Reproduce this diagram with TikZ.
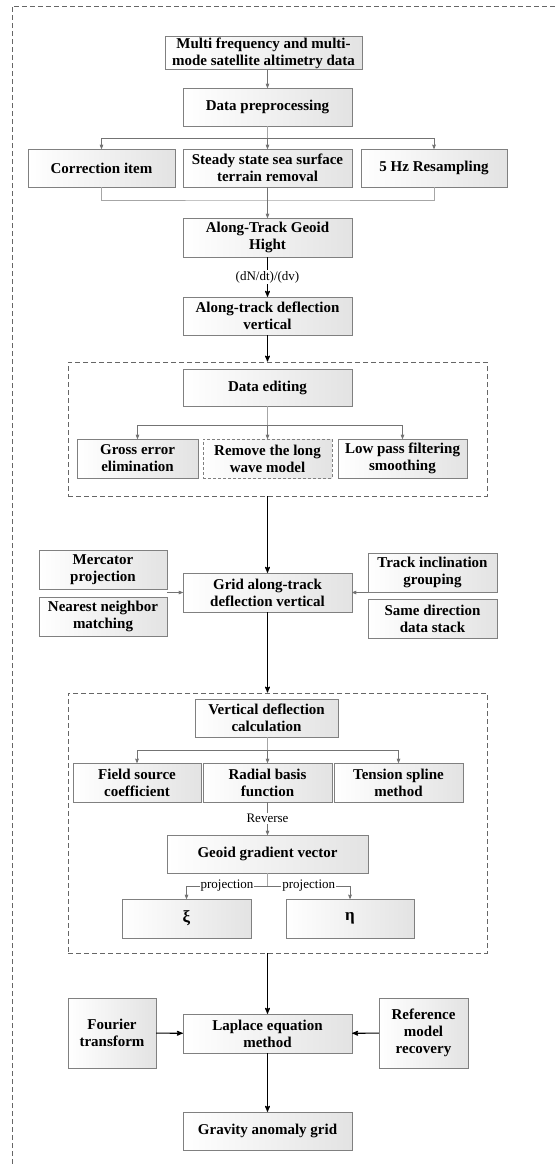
\documentclass[tikz,border=0pt]{standalone}
\usepackage{fontspec}
\setmainfont{Liberation Serif}
\usetikzlibrary{arrows}
\tikzset{
  box/.style={draw=black!50, left color=white, right color=black!11, align=center, inner sep=1pt,
    font=\fontsize{15}{17}\selectfont\bfseries},
  dbox/.style={box, dash pattern=on 3pt off 2pt},
  frame/.style={draw=black!60, dash pattern=on 5pt off 3pt, line width=0.8pt},
  garrow/.style={draw=black!55, line width=0.6pt, ->, >=stealth'},
  gline/.style={draw=black!35, line width=0.6pt},
  barrow/.style={draw=black, line width=1.1pt, ->, >=stealth'},
  lbl/.style={fill=white, inner sep=1pt, font=\fontsize{13}{15}\selectfont}
}
\begin{document}
\begin{tikzpicture}[x=1pt, y=-1pt]
\useasboundingbox (0,0) rectangle (557,1164);
\clip (0,0) rectangle (557,1164);
\fill[white] (0,0) rectangle (557,1164);
\draw[frame] (12,1180) |- (580,6);

% preprocessing
\node[box, minimum width=197, minimum height=30] (src) at (263.5,53) {Multi frequency and multi-\\mode satellite altimetry data};
\node[box, minimum width=169, minimum height=38] (prep) at (267.5,107) {Data preprocessing};
\node[box, minimum width=147, minimum height=38] (corr) at (101.5,168) {Correction item};
\node[box, minimum width=169, minimum height=38] (steady) at (267.5,168) {Steady state sea surface\\terrain removal};
\node[box, minimum width=146, minimum height=38] (resamp) at (434,168) {5 Hz Resampling};
\node[box, minimum width=169, minimum height=39] (geoid) at (267.5,237.5) {Along-Track Geoid\\Hight};
\node[box, minimum width=169, minimum height=38] (alongdv) at (267.5,316) {Along-track deflection\\vertical};

\draw[garrow] (src.south -| prep.north) -- (prep.north);
\coordinate (br1) at (267.5,138);
\draw[gline] (prep.south) -- (br1);
\foreach \n in {corr,steady,resamp}
  \draw[garrow] (br1) -| (\n.north);
\coordinate (mg1) at (267.5,200);
\draw[gline] (corr.south) |- (mg1) -| (resamp.south);
\draw[garrow] (steady.south) -- (geoid.north);
\draw[barrow] (geoid) -- node[lbl] {(dN/dt)/(dv)} (alongdv);

% data editing
\node[frame, minimum width=419, minimum height=134] (edbox) at (277.5,429) {};
\node[box, minimum width=169, minimum height=37] (edit) at (267.5,387.5) {Data editing};
\node[box, minimum width=121, minimum height=39] (gross) at (137.5,458.5) {Gross error\\elimination};
\node[dbox, minimum width=129, minimum height=39] (remove) at (267.5,458.5) {Remove the long\\wave model};
\node[box, minimum width=129, minimum height=39] (lowpass) at (402.5,458.5) {Low pass filtering\\smoothing};

\draw[barrow] (alongdv.south) -- (alongdv.south |- edbox.north);
\coordinate (br2) at (267.5,425);
\draw[gline] (edit.south) -- (br2);
\foreach \n in {gross,remove,lowpass}
  \draw[garrow] (br2) -| (\n.north);

% gridding
\node[box, minimum width=169, minimum height=39] (grid) at (267.5,592.5) {Grid along-track\\deflection vertical};
\node[box, minimum width=128, minimum height=39] (mercator) at (103,569.5) {Mercator\\projection};
\node[box, minimum width=128, minimum height=39] (nearest) at (103,616.5) {Nearest neighbor\\matching};
\node[box, minimum width=129, minimum height=39] (track) at (432.5,572.5) {Track inclination\\grouping};
\node[box, minimum width=129, minimum height=39] (same) at (432.5,618.5) {Same direction\\data stack};

\draw[barrow] (grid.north |- edbox.south) -- (grid.north);
\coordinate (gl) at (167,592.5);
\coordinate (gr) at (368,592.5);
\draw[garrow] (gl) -- (grid.west);
\draw[garrow] (gr) -- (grid.east);

% vertical deflection calculation
\node[frame, minimum width=419, minimum height=260] (vbox) at (277.5,823) {};
\node[box, minimum width=143, minimum height=38] (vdc) at (266.5,718) {Vertical deflection\\calculation};
\node[box, minimum width=128, minimum height=39] (field) at (137,782.5) {Field source\\coefficient};
\node[box, minimum width=129, minimum height=39] (radial) at (267.5,782.5) {Radial basis\\function};
\node[box, minimum width=129, minimum height=39] (tension) at (398.5,782.5) {Tension spline\\method};
\node[box, minimum width=201, minimum height=38] (ggv) at (267.5,854) {Geoid gradient vector};
\node[box, minimum width=129, minimum height=39, font=\fontsize{17}{19}\selectfont\bfseries] (xi) at (186.5,918.5) {ξ};
\node[box, minimum width=128, minimum height=39, font=\fontsize{17}{19}\selectfont\bfseries] (eta) at (350,918.5) {η};

\draw[barrow] (grid.south) -- (grid.south |- vbox.north);
\coordinate (br3) at (267.5,750);
\draw[gline] (vdc.south -| br3) -- (br3);
\foreach \n in {field,radial,tension}
  \draw[garrow] (br3) -| (\n.north);
\draw[garrow] (radial) -- node[lbl] {Reverse} (ggv);
\coordinate (pj) at (267.5,886);
\draw[gline] (ggv.south) -- (pj);
\draw[garrow] (pj) -- node[lbl] {projection} (pj -| xi.north) -- (xi.north);
\draw[garrow] (pj) -- node[lbl] {projection} (pj -| eta.north) -- (eta.north);

% gravity anomaly
\node[box, minimum width=169, minimum height=39] (laplace) at (267.5,1033.5) {Laplace equation\\method};
\node[box, minimum width=88, minimum height=70] (fourier) at (112,1033) {Fourier\\transform};
\node[box, minimum width=89, minimum height=70] (refrec) at (423.5,1033) {Reference\\model\\recovery};
\node[box, minimum width=169, minimum height=38] (gravity) at (267.5,1131) {Gravity anomaly grid};

\draw[barrow] (laplace.north |- vbox.south) -- (laplace.north);
\draw[barrow] (fourier) -- (laplace);
\draw[barrow] (refrec) -- (laplace);
\draw[barrow] (laplace) -- (gravity);
\end{tikzpicture}
\end{document}
